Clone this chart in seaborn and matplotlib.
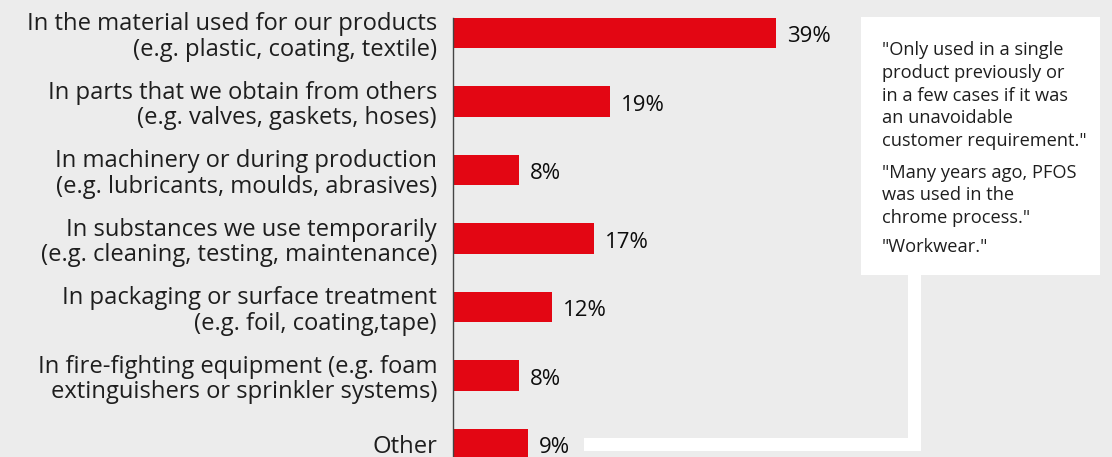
import matplotlib
matplotlib.use("Agg")
import matplotlib.pyplot as plt
import seaborn as sns
import pandas as pd
from matplotlib.patches import Rectangle

categories = [
    "In the material used for our products\n(e.g. plastic, coating, textile)",
    "In parts that we obtain from others\n(e.g. valves, gaskets, hoses)",
    "In machinery or during production\n(e.g. lubricants, moulds, abrasives)",
    "In substances we use temporarily\n(e.g. cleaning, testing, maintenance)",
    "In packaging or surface treatment\n(e.g. foil, coating,tape)",
    "In fire-fighting equipment (e.g. foam\nextinguishers or sprinkler systems)",
    "Other",
]
values = [39, 19, 8, 17, 12, 8, 9]
quotes = [
    "\"Only used in a single\nproduct previously or\nin a few cases if it was\nan unavoidable\ncustomer requirement.\"",
    "\"Many years ago, PFOS\nwas used in the\nchrome process.\"",
    "\"Workwear.\"",
]

BG = "#ececec"
RED = "#e30613"
TXT = "#1e1e1e"
FAMILY = ["Open Sans", "DejaVu Sans"]

sns.set_theme(style="white")
plt.rcParams["font.family"] = FAMILY

W, H = 1112, 457
fig = plt.figure(figsize=(W / 100, H / 100), dpi=100, facecolor=BG)
renderer = fig.canvas.get_renderer()


def text_width(s, size, **kw):
    t = fig.text(0, 0, s, fontsize=size, **kw)
    w = t.get_window_extent(renderer).width
    t.remove()
    return w


def fit_size(s, target_px, **kw):
    return 10 * target_px / text_width(s, 10, **kw)


def spacing_for(size, target_px, **kw):
    t1 = fig.text(0, 0, "Ag", fontsize=size, linespacing=1.0, **kw)
    t2 = fig.text(0, 0, "Ag\nAg", fontsize=size, linespacing=1.0, **kw)
    step = t2.get_window_extent(renderer).height - t1.get_window_extent(renderer).height
    t1.remove()
    t2.remove()
    return target_px / step


label_size = fit_size("In the material used for our products", 411)
label_ls = spacing_for(label_size, 26)
pct_size = fit_size("39%", 44)
quote_size = fit_size("\"Only used in a single", 182)
QUOTE_STEP = 24
quote_ls = spacing_for(quote_size, QUOTE_STEP)

left_px, top_px = 453, 18
ax = fig.add_axes([left_px / W, 0, (W - left_px) / W, 1 - top_px / H])
ax.set_facecolor(BG)

df = pd.DataFrame({"cat": categories, "val": values})
sns.barplot(data=df, x="val", y="cat", orient="h", color=RED, width=0.44,
            saturation=1, linewidth=0, ax=ax)

px_per_unit = 8.28
row_px = 68.5
ax.set_xlim(0, (W - left_px) / px_per_unit)
ax.set_ylim((H - 33) / row_px, -0.22)

for i, v in enumerate(values):
    ax.text(v + 11 / px_per_unit, i + 9 / row_px, f"{v}%", va="baseline", ha="left",
            fontsize=pct_size, color="#0d0d0d")

ax.set_xlabel("")
ax.set_ylabel("")
ax.set_xticks([])
ax.tick_params(axis="y", length=0, pad=11.5, labelsize=label_size, labelcolor=TXT)
for lbl in ax.get_yticklabels():
    lbl.set_linespacing(label_ls)
for s in ["top", "right", "bottom"]:
    ax.spines[s].set_visible(False)
ax.spines["left"].set_color("#444444")
ax.spines["left"].set_linewidth(1.0)


def fx(p):
    return p / W


def fy(p):
    return 1 - p / H


def white_rect(x0, y0, x1, y1):
    fig.patches.append(Rectangle((fx(x0), fy(y1)), fx(x1) - fx(x0), fy(y0) - fy(y1),
                                 transform=fig.transFigure, facecolor="white",
                                 edgecolor="none", zorder=0))


white_rect(861, 17, 1100, 275)
white_rect(908, 274, 921, 451)
white_rect(584, 438, 921, 451)

first_baselines = [50, 175, 252]
for q, y in zip(quotes, first_baselines):
    n = q.count("\n")
    fig.text(fx(882), fy(y + n * QUOTE_STEP), q, ha="left", va="baseline",
             fontsize=quote_size, color=TXT, linespacing=quote_ls)

fig.savefig("out.png", dpi=100, facecolor=BG)
